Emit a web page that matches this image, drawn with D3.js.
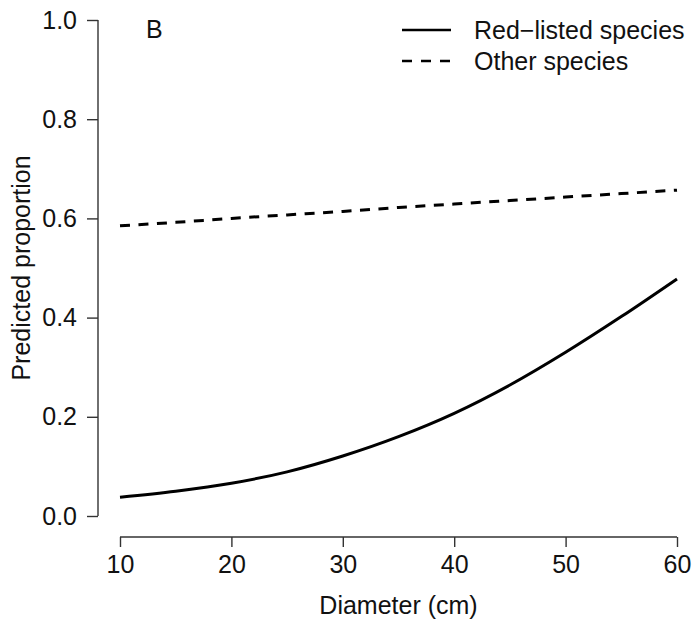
<!DOCTYPE html>
<html lang="en">
  <head>
    <meta charset="utf-8">
    <title>Predicted proportion</title>
    <script type="text/javascript" src="https://cdn.jsdelivr.net/npm/d3@7/dist/d3.min.js"></script>
<style>
body { margin: 0; background: #fff; }
text { font-family: "Liberation Sans", Arial, sans-serif; fill: #111; }
</style>
  </head>
  <body>
    <script type="text/javascript">
      // values
      var diameter = [10, 15, 20, 25, 30, 35, 40, 45, 50, 55, 60];
      var redListed = [0.038, 0.050, 0.066, 0.089, 0.121, 0.160, 0.207, 0.264, 0.330, 0.402, 0.478];
      var otherSpecies = [0.585, 0.592, 0.600, 0.607, 0.614, 0.622, 0.629, 0.636, 0.643, 0.650, 0.657];
      var xTicks = [10, 20, 30, 40, 50, 60];
      var yTicks = [0, 0.2, 0.4, 0.6, 0.8, 1.0];
      var legendLabels = ["Red\u2212listed species", "Other species"];

      var width = 696, height = 620;
      var svg = d3.select("body").append("svg")
        .attr("width", width)
        .attr("height", height);

      var x = d3.scaleLinear().domain([10, 60]).range([120, 677]);
      var y = d3.scaleLinear().domain([0, 1]).range([516, 20]);
      var fontSize = "25px";

      // axes, R style (detached)
      var yAxis = svg.append("g")
        .attr("transform", "translate(98,0)")
        .call(d3.axisLeft(y).tickValues(yTicks).tickSize(11).tickPadding(10)
          .tickFormat(d3.format(".1f")));
      var xAxis = svg.append("g")
        .attr("transform", "translate(0,537)")
        .call(d3.axisBottom(x).tickValues(xTicks).tickSize(10).tickPadding(8));
      [xAxis, yAxis].forEach(function(g) {
        g.select(".domain").attr("stroke", "#333").attr("stroke-width", 1.4);
        g.selectAll(".tick line").attr("stroke", "#333").attr("stroke-width", 1.4);
        g.selectAll(".tick text")
          .attr("font-family", "Liberation Sans, Arial, sans-serif")
          .attr("font-size", fontSize)
          .attr("fill", "#111");
      });
      // R-style domain without end caps
      xAxis.select(".domain").attr("d", "M" + x(10) + ",0H" + x(60));
      yAxis.select(".domain").attr("d", "M0," + y(0) + "V" + y(1));

      var line = d3.line()
        .x(function(d) { return x(d[0]); })
        .y(function(d) { return y(d[1]); })
        .curve(d3.curveMonotoneX);

      svg.append("path")
        .datum(d3.zip(diameter, redListed))
        .attr("d", line)
        .attr("fill", "none")
        .attr("stroke", "#000")
        .attr("stroke-width", 3);

      svg.append("path")
        .datum(d3.zip(diameter, otherSpecies))
        .attr("d", line)
        .attr("fill", "none")
        .attr("stroke", "#000")
        .attr("stroke-width", 3)
        .attr("stroke-dasharray", "10,8.5");

      // axis titles
      svg.append("text")
        .attr("x", (x(10) + x(60)) / 2)
        .attr("y", 614)
        .attr("text-anchor", "middle")
        .attr("font-size", fontSize)
        .text("Diameter (cm)");
      svg.append("text")
        .attr("transform", "translate(30," + ((y(0) + y(1)) / 2) + ") rotate(-90)")
        .attr("text-anchor", "middle")
        .attr("font-size", fontSize)
        .text("Predicted proportion");

      // panel letter
      svg.append("text")
        .attr("x", 146)
        .attr("y", 38)
        .attr("font-size", fontSize)
        .text("B");

      // legend
      var legend = svg.selectAll("g.legend")
        .data(legendLabels)
        .enter()
        .append("g")
        .attr("class", "legend")
        .attr("transform", function(d, i) { return "translate(0," + (30 + i * 31) + ")"; });
      legend.append("line")
        .attr("x1", 402).attr("x2", 451)
        .attr("stroke", "#000")
        .attr("stroke-width", 2.5)
        .attr("stroke-dasharray", function(d, i) { return i === 1 ? "10,9" : null; });
      legend.append("text")
        .attr("x", 474)
        .attr("y", 8.5)
        .attr("font-size", fontSize)
        .text(function(d) { return d; });
    </script>
  </body>
</html>
